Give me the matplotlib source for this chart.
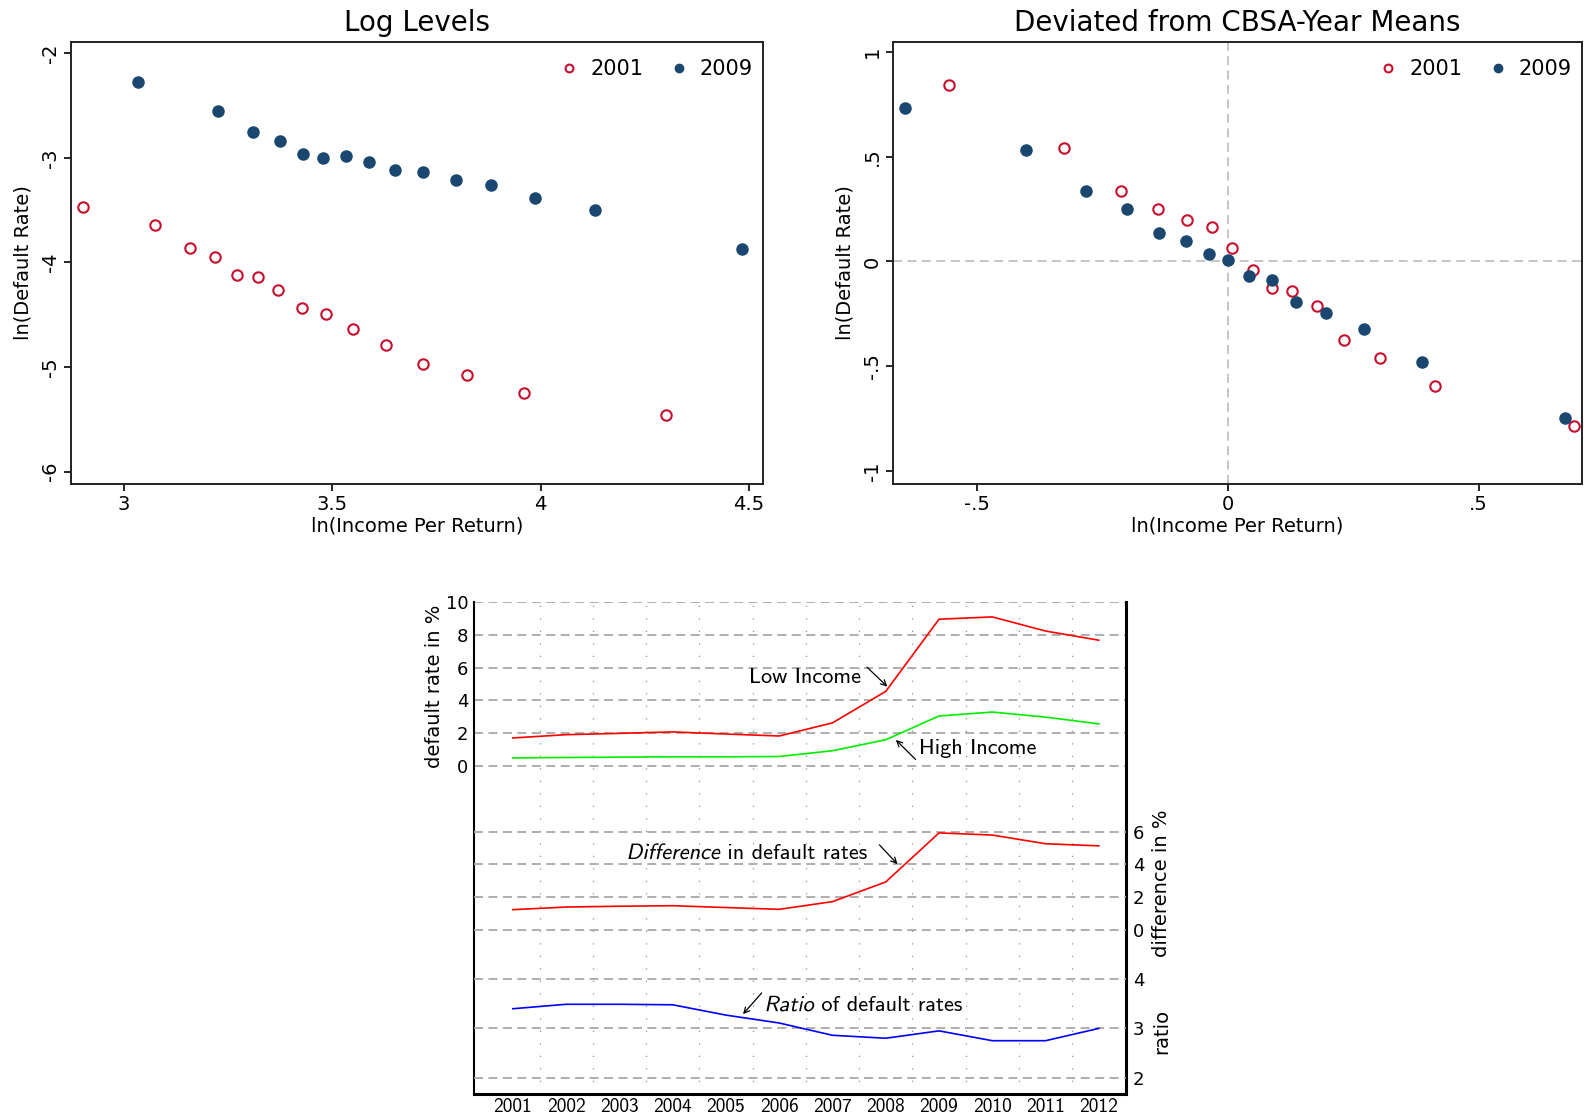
import numpy as np
import matplotlib
matplotlib.use('Agg')
import matplotlib.pyplot as plt
import matplotlib.transforms as mtransforms
from matplotlib.textpath import TextPath
from matplotlib.patches import PathPatch
from matplotlib.font_manager import FontProperties

plt.rcParams['axes.unicode_minus'] = False
plt.rcParams['font.family'] = 'DejaVu Sans'

# --- top left: log levels
lv_x01 = [2.902, 3.075, 3.159, 3.219, 3.272, 3.321, 3.371, 3.427, 3.486, 3.551, 3.630, 3.718, 3.823, 3.960, 4.302]
lv_y01 = [-3.466, -3.638, -3.858, -3.944, -4.120, -4.135, -4.266, -4.438, -4.496, -4.636, -4.792, -4.974, -5.076, -5.248, -5.458]
lv_x09 = [3.034, 3.225, 3.310, 3.375, 3.429, 3.479, 3.533, 3.589, 3.651, 3.718, 3.797, 3.881, 3.986, 4.131, 4.483]
lv_y09 = [-2.271, -2.551, -2.755, -2.835, -2.959, -3.001, -2.978, -3.039, -3.119, -3.138, -3.214, -3.262, -3.380, -3.495, -3.868]

# --- top right: deviated from CBSA-year means
dv_x01 = [-0.556, -0.326, -0.213, -0.140, -0.081, -0.032, 0.008, 0.050, 0.088, 0.128, 0.177, 0.232, 0.304, 0.412, 0.691]
dv_y01 = [0.845, 0.542, 0.334, 0.252, 0.196, 0.166, 0.065, -0.043, -0.128, -0.139, -0.211, -0.375, -0.460, -0.594, -0.788]
dv_x09 = [-0.644, -0.403, -0.284, -0.201, -0.137, -0.083, -0.037, 0.000, 0.042, 0.088, 0.136, 0.196, 0.272, 0.387, 0.673]
dv_y09 = [0.735, 0.532, 0.335, 0.252, 0.136, 0.096, 0.037, 0.008, -0.070, -0.091, -0.192, -0.244, -0.324, -0.481, -0.748]

# --- bottom: time series
years = np.arange(2001, 2013)
low_inc = [1.71, 1.91, 1.99, 2.08, 1.95, 1.83, 2.63, 4.55, 8.95, 9.09, 8.23, 7.67]
high_inc = [0.49, 0.52, 0.54, 0.56, 0.56, 0.58, 0.93, 1.60, 3.05, 3.29, 2.98, 2.57]
diff = [1.24, 1.40, 1.45, 1.48, 1.37, 1.26, 1.73, 2.93, 5.92, 5.79, 5.26, 5.13]
ratio = [3.40, 3.49, 3.49, 3.48, 3.27, 3.11, 2.86, 2.80, 2.95, 2.75, 2.75, 3.00]

red01 = '#c8102e'
navy = '#1a476f'

W, H = 1591, 1117
fig = plt.figure(figsize=(W / 100, H / 100), dpi=100)


def px_axes(l, t, r, b):
    return fig.add_axes([l / W, 1 - b / H, (r - l) / W, (b - t) / H])


def style_top(ax):
    for s in ax.spines.values():
        s.set_linewidth(1.4)
        s.set_color('#222222')
    ax.tick_params(axis='both', direction='out', length=5, width=1.2, labelsize=14, pad=3)
    ax.tick_params(axis='y', labelrotation=90)
    for t in ax.get_yticklabels():
        t.set_va('center')
    ax.set_xlabel('ln(Income Per Return)', fontsize=14, labelpad=2)
    ax.set_ylabel('ln(Default Rate)', fontsize=14, labelpad=6)
    ax.legend(loc='upper right', bbox_to_anchor=(1.0, 0.984), ncol=2, frameon=False,
              fontsize=15, markerscale=0.75, handletextpad=0.5, columnspacing=1.2,
              borderaxespad=0.1, handlelength=1.0)


ax1 = px_axes(71, 42, 763, 484)
ax1.plot(lv_x01, lv_y01, 'o', ms=7.5, mfc='white', mec=red01, mew=1.5, label='2001')
ax1.plot(lv_x09, lv_y09, 'o', ms=8, color=navy, label='2009')
ax1.set_xlim(2.873, 4.534)
ax1.set_ylim(-6.118, -1.892)
ax1.set_xticks([3, 3.5, 4, 4.5], ['3', '3.5', '4', '4.5'])
ax1.set_yticks([-2, -3, -4, -5, -6], ['-2', '-3', '-4', '-5', '-6'])
ax1.set_title('Log Levels', fontsize=20, pad=8)
style_top(ax1)

ax2 = px_axes(893, 42, 1582, 484)
ax2.axhline(0, color='#c0c0c0', lw=1.3, ls=(0, (5, 3)), zorder=0)
ax2.axvline(0, color='#c0c0c0', lw=1.3, ls=(0, (5, 3)), zorder=0)
ax2.plot(dv_x01, dv_y01, 'o', ms=7.5, mfc='white', mec=red01, mew=1.5, label='2001')
ax2.plot(dv_x09, dv_y09, 'o', ms=8, color=navy, label='2009')
ax2.set_xlim(-0.668, 0.706)
ax2.set_ylim(-1.063, 1.048)
ax2.set_xticks([-0.5, 0, 0.5], ['-.5', '0', '.5'])
ax2.set_yticks([1, 0.5, 0, -0.5, -1], ['1', '.5', '0', '-.5', '-1'])
ax2.set_title('Deviated from CBSA-Year Means', fontsize=20, pad=8)
style_top(ax2)

# --- bottom panel: three stacked scales on one frame
cmf = 'cmss10'
grid_kw = dict(color='#a8a8a8', lw=1.3, ls=(0, (5, 3)))
rect = [474 / W, 1 - 1094 / H, (1126 - 474) / W, (1094 - 602) / H]
axl = fig.add_axes(rect)
axd = fig.add_axes(rect, sharex=axl)
axr = fig.add_axes(rect, sharex=axl)
for a in (axd, axr):
    a.patch.set_visible(False)
    for s in a.spines.values():
        s.set_visible(False)

axl.plot(years, low_inc, color='#ff0000', lw=1.2)
axl.plot(years, high_inc, color='#00ee00', lw=1.2)
axd.plot(years, diff, color='#ff0000', lw=1.2)
axr.plot(years, ratio, color='#0000ff', lw=1.2)

axl.set_xlim(2000.27, 2012.51)
axl.set_ylim(-20, 10)
axd.set_ylim(-10, 20)
axr.set_ylim(5 / 3, 35 / 3)

axl.set_xticks(years, [str(y) for y in years])
axl.set_xticks(years[:-1] + 0.5, minor=True)
axl.grid(axis='x', which='minor', color='#909090', lw=0.9, ls=(0, (1, 9)))
axl.tick_params(axis='x', which='both', length=0, labelsize=14, pad=3)
for t in axl.get_xticklabels():
    t.set_fontfamily(cmf)

axl.set_yticks(range(0, 11, 2))
axl.grid(axis='y', **grid_kw)
axl.tick_params(axis='y', length=0, labelsize=13, pad=4)

axd.set_yticks(range(0, 7, 2))
axd.yaxis.tick_right()
axd.grid(axis='y', **grid_kw)
axd.tick_params(axis='y', length=0, labelsize=13, pad=5)
axd.tick_params(axis='x', which='both', length=0, labelbottom=False)

axr.set_yticks([2, 3, 4])
axr.yaxis.tick_right()
axr.grid(axis='y', **grid_kw)
axr.tick_params(axis='y', length=0, labelsize=13, pad=5)
axr.tick_params(axis='x', which='both', length=0, labelbottom=False)

axl.spines['top'].set_visible(False)
axl.spines['left'].set_linewidth(1.5)
axl.spines['bottom'].set_linewidth(2.2)
axl.spines['right'].set_linewidth(2.2)
for s in axl.spines.values():
    s.set_color('black')

axl.text(-0.06, 0.829, 'default rate in %', transform=axl.transAxes, rotation=90,
         ha='center', va='center', fontsize=14)
axl.text(1.055, 0.4285, 'difference in %', transform=axl.transAxes, rotation=90,
         ha='center', va='center', fontsize=14)
axl.text(1.055, 0.128, 'ratio', transform=axl.transAxes, rotation=90,
         ha='center', va='center', fontsize=14)

arrow = dict(arrowstyle='->', color='black', lw=0.9, shrinkA=0, shrinkB=0)
axl.text(2005.44, 5.09, 'Low Income', fontsize=16, fontfamily=cmf, va='baseline')
axl.annotate('', xy=(2008.03, 4.84), xytext=(2007.65, 6.02), arrowprops=arrow)
axl.text(2008.62, 0.71, 'High Income', fontsize=16, fontfamily=cmf, va='baseline')
axl.annotate('', xy=(2008.19, 1.59), xytext=(2008.56, 0.40), arrowprops=arrow)

cm_prop = FontProperties(family=cmf, size=16)


def slanted(ax, x, y, word, rest):
    tp = TextPath((0, 0), word, prop=cm_prop)
    tr = (mtransforms.Affine2D().skew_deg(12, 0).scale(fig.dpi / 72.0)
          + mtransforms.ScaledTranslation(x, y, ax.transData))
    ax.add_patch(PathPatch(tp, transform=tr, facecolor='black', edgecolor='none'))
    w = tp.get_extents().x1
    ax.annotate(rest, xy=(x, y), xytext=(w + 1.0, 0), textcoords='offset points',
                fontproperties=cm_prop, va='baseline')


slanted(axd, 2003.13, 4.33, 'Difference', ' in default rates')
axd.annotate('', xy=(2008.22, 4.02), xytext=(2007.88, 5.19), arrowprops=arrow)
slanted(axr, 2005.72, 3.35, 'Ratio', ' of default rates')
axr.annotate('', xy=(2005.32, 3.29), xytext=(2005.67, 3.72), arrowprops=arrow)

axd.set_ylim(-10, 20)
axr.set_ylim(5 / 3, 35 / 3)
axl.set_xlim(2000.27, 2012.51)

fig.savefig('out.png', dpi=100)
